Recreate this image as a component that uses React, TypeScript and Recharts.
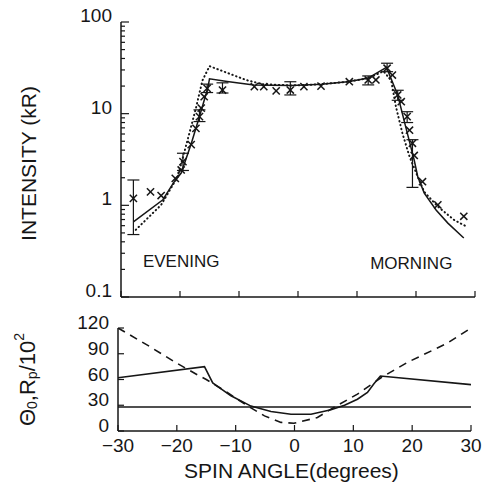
import React from 'react';
import { ComposedChart, Line, Scatter, XAxis, YAxis, ErrorBar, ReferenceDot } from 'recharts';

const INK = '#161616';
const FONT = '"Liberation Sans", Arial, Helvetica, sans-serif';

// ---------- tick labels ----------
const xTicks = [-30, -20, -10, 0, 10, 20, 30];
const intensityMajor = [0.1, 1, 10, 100];
const intensityTicks = [
  0.1, 0.2, 0.3, 0.4, 0.5, 0.6, 0.7, 0.8, 0.9,
  1, 2, 3, 4, 5, 6, 7, 8, 9,
  10, 20, 30, 40, 50, 60, 70, 80, 90, 100,
];
const thetaTicks = [0, 30, 60, 90, 120];

// ---------- top panel: intensity (kR) ----------
const solidModel: [number, number][] = [
  [-27.9, 0.66], [-22.9, 1.15], [-21, 1.8], [-19.8, 2.25], [-18.1, 4.7], [-16.7, 9.3],
  [-15.3, 18.9], [-15, 24], [-12, 22.5], [-7.5, 20.6], [-1.2, 20.3], [1, 20.5], [4, 21],
  [8.4, 22.3], [11.8, 24.3], [15, 32], [16.9, 16], [18.3, 7], [19.7, 3.1], [20.3, 2.05],
  [21.4, 1.36], [23.4, 0.89], [25.4, 0.64], [28.1, 0.44],
];
const dottedModel: [number, number][] = [
  [-27.5, 0.54], [-23.2, 1.01], [-20.4, 2.05], [-18.7, 5.2], [-17.3, 11.5], [-16.2, 23],
  [-15, 33], [-8.8, 23.3], [-6, 21], [-1.2, 20.3], [1, 20.5], [4, 21], [8.4, 22.3],
  [11.8, 24.3], [14.5, 29], [15.8, 23], [16.6, 11.9], [17.7, 6.1], [18.9, 3.4], [20.3, 2.05],
  [21.4, 1.4], [23.7, 0.97], [26.5, 0.69], [28.5, 0.59],
];
const observed: [number, number][] = [
  [-25, 1.4], [-23.2, 1.28], [-20.8, 1.97], [-19.8, 2.43], [-18.1, 4.6], [-17.3, 6.9],
  [-16.4, 11.5], [-15.9, 15.3], [-7.4, 19.7], [-5.8, 19.7], [-3.7, 17.7], [1.0, 19.7],
  [3.9, 20], [8.7, 22.3], [13.2, 23.3], [16.0, 26.4], [17.5, 13.5], [18.9, 6.6],
  [19.7, 3.5], [21.1, 1.81], [23.7, 1.01], [28.1, 0.76],
];
// [x, value, low, high]
const observedWithError: [number, number, number, number][] = [
  [-27.9, 1.19, 0.48, 1.89], [-19.5, 3.0, 2.4, 3.7], [-16.7, 9.3, 8.2, 11], [-15.4, 18.9, 17, 21],
  [-12.8, 18.1, 16.8, 21.7], [-1.3, 18.1, 16, 22.3], [11.9, 23.3, 20.6, 25.8],
  [15.1, 31.3, 28.7, 35.5], [16.9, 16, 14, 18], [18.5, 9.3, 8, 10.5], [19.4, 4.75, 1.57, 5.2],
];
const eveningLabel = { text: 'EVENING', x: -19.8, y: 0.25 };
const morningLabel = { text: 'MORNING', x: 19.2, y: 0.235 };

// ---------- bottom panel: Theta0, Rp/10^2 ----------
const thetaSolid: [number, number][] = [
  [-30, 62], [-15.3, 75], [-13.9, 56], [-10.8, 41], [-7.4, 29], [-4, 22.7], [-0.6, 19.6],
  [2.8, 19.6], [6.2, 24.7], [8.5, 30], [10.7, 37], [12.4, 45], [13.5, 55], [14.6, 64], [30, 54],
];
const rpLevel: [number, number][] = [[-30, 28], [30, 28]];
const thetaDashed: [number, number][] = [
  [-30, 120], [-25, 100], [-20, 79], [-16.4, 65], [-15, 60], [-11.9, 47], [-9.7, 37],
  [-7.4, 27], [-5.1, 17.6], [-2.3, 10], [-0.1, 9], [3.9, 15.7], [6.2, 25.5], [10.7, 43],
  [14.7, 62], [19.2, 80], [25.9, 102], [30, 120],
];

const toXY = (arr: [number, number][]) => arr.map(([x, y]) => ({ x, y }));
const solidData = toXY(solidModel);
const dottedData = toXY(dottedModel);
const obsData = toXY(observed);
const obsErrData = observedWithError.map(([x, y, lo, hi]) => ({ x, y, err: [y - lo, hi - y] }));
const thetaSolidData = toXY(thetaSolid);
const rpData = toXY(rpLevel);
const thetaDashedData = toXY(thetaDashed);

const isMajor = (v: number) => intensityMajor.some((m) => Math.abs(m - v) < 1e-9);

const txt = { fontFamily: FONT, fill: INK, fontSize: 19 } as const;

const LeftLogTick = (props: any) => {
  const { x, y, payload } = props;
  const v = payload.value as number;
  const major = isMajor(v);
  return (
    <g>
      <line x1={x} y1={y} x2={x + (major ? 8 : 4)} y2={y} stroke={INK} strokeWidth={1.2} />
      {major && (
        <text x={x - 9} y={y} textAnchor="end" {...txt}>
          {String(v)}
        </text>
      )}
    </g>
  );
};
const RightLogTick = (props: any) => {
  const { x, y, payload } = props;
  const major = isMajor(payload.value);
  return <line x1={x} y1={y} x2={x - (major ? 8 : 4)} y2={y} stroke={INK} strokeWidth={1.2} />;
};
const BottomInTick = (props: any) => {
  const { x, y } = props;
  return <line x1={x} y1={y} x2={x} y2={y - 6} stroke={INK} strokeWidth={1.2} />;
};
const TopInTick = (props: any) => {
  const { x, y } = props;
  return <line x1={x} y1={y} x2={x} y2={y + 6} stroke={INK} strokeWidth={1.2} />;
};
const BottomLabelTick = (props: any) => {
  const { x, y, payload } = props;
  const v = payload.value as number;
  const s = v < 0 ? '\u2212' + Math.abs(v) : String(v);
  return (
    <g>
      <line x1={x} y1={y} x2={x} y2={y - 6} stroke={INK} strokeWidth={1.2} />
      <text x={x} y={y + 21} textAnchor="middle" {...txt}>
        {s}
      </text>
    </g>
  );
};
const ThetaTick = (props: any) => {
  const { x, y, payload } = props;
  return (
    <g>
      <line x1={x} y1={y} x2={x + 6} y2={y} stroke={INK} strokeWidth={1.2} />
      <text x={x - 9} y={y + 1} textAnchor="end" {...txt}>
        {String(payload.value)}
      </text>
    </g>
  );
};

const IntensityLabel = (props: any) => {
  const vb = props.viewBox || { x: 0, y: 22, width: 121, height: 275 };
  const cx = vb.x + 28;
  const cy = vb.y + vb.height / 2 + 4;
  return (
    <text x={cx} y={cy} transform={`rotate(-90 ${cx} ${cy})`} textAnchor="middle" dominantBaseline="central" {...txt} fontSize={21}>
      INTENSITY (kR)
    </text>
  );
};
const ThetaLabel = (props: any) => {
  const vb = props.viewBox || { x: 0, y: 28, width: 118, height: 103 };
  const cx = vb.x + 27;
  const cy = vb.y + vb.height / 2;
  return (
    <text x={cx} y={cy} transform={`rotate(-90 ${cx} ${cy})`} textAnchor="middle" dominantBaseline="central" {...txt} fontSize={22}>
      <tspan>Θ</tspan>
      <tspan dy={5} fontSize={14}>0</tspan>
      <tspan dy={-5}>,R</tspan>
      <tspan dy={5} fontSize={14}>p</tspan>
      <tspan dy={-5}>/10</tspan>
      <tspan dy={-8} fontSize={14}>2</tspan>
    </text>
  );
};
const SpinLabel = (props: any) => {
  const vb = props.viewBox || { x: 118, y: 131, width: 353, height: 61 };
  const cx = vb.x + vb.width / 2 - 3;
  return (
    <text x={cx} y={vb.y + 47} textAnchor="middle" {...txt} fontSize={21}>
      SPIN ANGLE(degrees)
    </text>
  );
};

const XMark = (props: any) => {
  const { cx, cy } = props;
  if (cx == null || cy == null) return <g />;
  const s = 3.6;
  return (
    <g stroke={INK} strokeWidth={1.5}>
      <line x1={cx - s} y1={cy - s} x2={cx + s} y2={cy + s} />
      <line x1={cx - s} y1={cy + s} x2={cx + s} y2={cy - s} />
    </g>
  );
};

export default function App() {
  return (
    <div style={{ position: 'absolute', left: 0, top: 0, width: 484, height: 492, background: '#fff', overflow: 'hidden' }}>
      <div style={{ position: 'absolute', left: 0, top: 0 }}>
        <ComposedChart width={484} height={310} margin={{ top: 22, right: 9, bottom: 0, left: 0 }}>
          <XAxis
            dataKey="x" type="number" domain={[-30, 30]} ticks={xTicks} interval={0}
            allowDataOverflow height={13} tickSize={0} tickMargin={0}
            axisLine={{ stroke: INK, strokeWidth: 1.5 }} tickLine={false} tick={<BottomInTick />}
          />
          <XAxis
            xAxisId="t" orientation="top" dataKey="x" type="number" domain={[-30, 30]} ticks={xTicks}
            interval={0} height={0} tickSize={0} tickMargin={0}
            axisLine={{ stroke: INK, strokeWidth: 1.5 }} tickLine={false} tick={<TopInTick />}
          />
          <YAxis
            type="number" scale="log" domain={[0.1, 100]} ticks={intensityTicks} interval={0}
            allowDataOverflow width={121} tickSize={0} tickMargin={0}
            axisLine={{ stroke: INK, strokeWidth: 1.5 }} tickLine={false} tick={<LeftLogTick />}
            label={<IntensityLabel />}
          />
          <YAxis
            yAxisId="r" orientation="right" type="number" scale="log" domain={[0.1, 100]}
            ticks={intensityTicks} interval={0} allowDataOverflow width={0} tickSize={0} tickMargin={0}
            axisLine={{ stroke: INK, strokeWidth: 1.5 }} tickLine={false} tick={<RightLogTick />}
          />
          <Line data={dottedData} dataKey="y" type="linear" stroke={INK} strokeWidth={2}
            strokeDasharray="0.5 3.5" strokeLinecap="round" dot={false} isAnimationActive={false} />
          <Line data={solidData} dataKey="y" type="linear" stroke={INK} strokeWidth={1.5}
            dot={false} isAnimationActive={false} />
          <Scatter data={obsData} dataKey="y" shape={<XMark />} isAnimationActive={false} />
          <Scatter data={obsErrData} dataKey="y" shape={<XMark />} isAnimationActive={false}>
            <ErrorBar dataKey="err" direction="y" width={6} stroke={INK} strokeWidth={1.2} />
          </Scatter>
          {[eveningLabel, morningLabel].map((l) => (
            <ReferenceDot key={l.text} x={l.x} y={l.y} r={0} fill="none" stroke="none"
              label={{ value: l.text, position: 'center', fontSize: 17, fill: INK, fontFamily: FONT }} />
          ))}
        </ComposedChart>
      </div>
      <div style={{ position: 'absolute', left: 0, top: 300 }}>
        <ComposedChart width={484} height={192} margin={{ top: 28, right: 13, bottom: 0, left: 0 }}>
          <XAxis
            dataKey="x" type="number" domain={[-30, 30]} ticks={xTicks} interval={0}
            allowDataOverflow height={61} tickSize={0} tickMargin={0}
            axisLine={{ stroke: INK, strokeWidth: 1.5 }} tickLine={false} tick={<BottomLabelTick />}
            label={<SpinLabel />}
          />
          <XAxis
            xAxisId="t" orientation="top" dataKey="x" type="number" domain={[-30, 30]} ticks={xTicks}
            interval={0} height={0} tickSize={0} tickMargin={0}
            axisLine={{ stroke: INK, strokeWidth: 1.5 }} tickLine={false} tick={<TopInTick />}
          />
          <YAxis
            type="number" domain={[0, 120]} ticks={thetaTicks} interval={0} allowDataOverflow
            width={118} tickSize={0} tickMargin={0}
            axisLine={{ stroke: INK, strokeWidth: 1.5 }} tickLine={false} tick={<ThetaTick />}
            label={<ThetaLabel />}
          />
          <YAxis
            yAxisId="r" orientation="right" type="number" domain={[0, 120]} ticks={thetaTicks}
            allowDataOverflow width={0} tick={false} tickLine={false}
            axisLine={{ stroke: INK, strokeWidth: 1.5 }}
          />
          <Line data={thetaDashedData} dataKey="y" type="linear" stroke={INK} strokeWidth={1.6}
            strokeDasharray="8 6" dot={false} isAnimationActive={false} />
          <Line data={rpData} dataKey="y" type="linear" stroke={INK} strokeWidth={1.6}
            dot={false} isAnimationActive={false} />
          <Line data={thetaSolidData} dataKey="y" type="linear" stroke={INK} strokeWidth={1.6}
            dot={false} isAnimationActive={false} />
        </ComposedChart>
      </div>
    </div>
  );
}
